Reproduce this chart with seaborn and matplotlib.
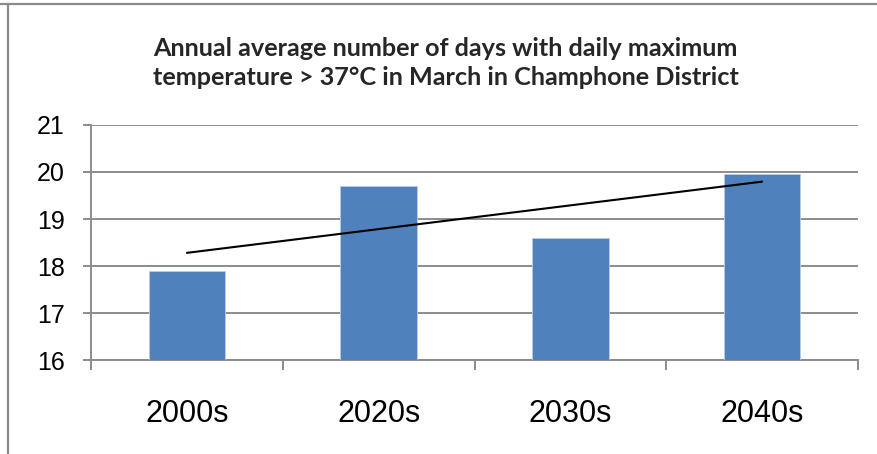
import numpy as np
import pandas as pd
import matplotlib
matplotlib.use("Agg")
import matplotlib.pyplot as plt
from matplotlib.lines import Line2D
import seaborn as sns

decades = ["2000s", "2020s", "2030s", "2040s"]
days_over_37 = [17.9, 19.7, 18.6, 19.95]
y_ticks = [16, 17, 18, 19, 20, 21]

title = ("Annual average number of days with daily maximum\n"
         "temperature > 37°C in March in Champhone District")

sns.set_theme(style="white")
plt.rcParams["font.family"] = ["Liberation Sans", "DejaVu Sans"]

df = pd.DataFrame({"decade": decades, "days": days_over_37})

fig = plt.figure(figsize=(8.77, 4.54), dpi=100)
ax = fig.add_axes([0.1038, 0.2070, 0.9783 - 0.1038, 0.7247 - 0.2070])

grid_col = "#8c8c8c"

sns.barplot(data=df, x="decade", y="days", color="#4F81BD", saturation=1,
            width=0.4, ax=ax, zorder=3, edgecolor="#b9cde5", linewidth=0.6)

# linear trendline across the decades
sns.regplot(x=np.arange(len(decades)), y=np.array(days_over_37), scatter=False,
            ci=None, color="black", line_kws={"linewidth": 1.5, "zorder": 4}, ax=ax,
            truncate=True)

ax.set_xlim(-0.5, len(decades) - 0.5)
ax.set_ylim(y_ticks[0], y_ticks[-1])
ax.set_yticks(y_ticks)
ax.set_yticklabels([str(t) for t in y_ticks], fontsize=18, color="black")
ax.set_xticks(range(len(decades)))
ax.set_xticklabels(decades, fontsize=22, color="black")
ax.set_xlabel("")
ax.set_ylabel("")

ax.yaxis.grid(True, color=grid_col, linewidth=1.4, zorder=0)
ax.set_axisbelow(True)

for s in ["top", "right"]:
    ax.spines[s].set_visible(False)
for s in ["left", "bottom"]:
    ax.spines[s].set_color(grid_col)
    ax.spines[s].set_linewidth(1.4)

ax.tick_params(axis="y", which="major", left=True, length=6, width=1.4,
               color=grid_col, pad=13)
ax.tick_params(axis="x", which="major", bottom=False, length=0, pad=28)
# category dividers on the x axis
ax.set_xticks(np.arange(-0.5, len(decades), 1.0), minor=True)
ax.tick_params(axis="x", which="minor", bottom=True, length=7, width=1.4,
               color=grid_col, direction="out")

fig.text(0.508, 0.862, title, ha="center", va="center", fontsize=18.2,
         fontweight="bold", family=["Lato", "DejaVu Sans"], linespacing=1.3)

# chart frame edges
fig.add_artist(Line2D([0, 1], [0.991, 0.991], color="#8a8a8a", linewidth=1.6,
                      transform=fig.transFigure))
fig.add_artist(Line2D([0.009, 0.009], [0, 0.991], color="#8a8a8a", linewidth=1.6,
                      transform=fig.transFigure))

fig.savefig("out.png", dpi=100)
